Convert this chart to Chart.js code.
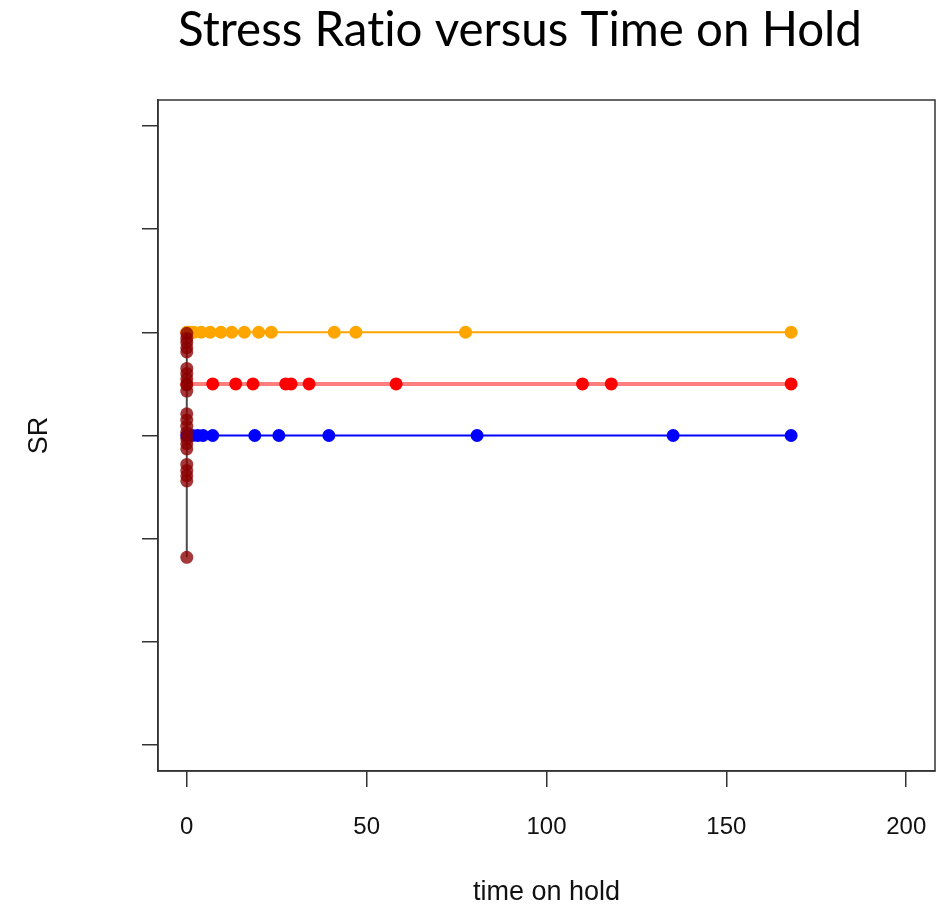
<!DOCTYPE html>
<html>
<head>
<meta charset="utf-8">
<script src="https://cdn.jsdelivr.net/npm/chart.js@4.4.0/dist/chart.umd.min.js"></script>
<style>
    html, body { margin: 0; padding: 0; background: #fff; }
    #wrap { width: 943px; height: 906px; }
</style>
</head>
<body>
<div id="wrap"><canvas id="srChart" width="943" height="906"></canvas></div>
<script>
// axis ticks (the y tick labels are not shown in the original)
const xTicks = [0, 50, 100, 150, 200];
const yTicks = [0.1, 0.2, 0.3, 0.4, 0.5, 0.6, 0.7];

// orange series
const orangeTime = [0, 1, 2, 4, 6.5, 9.5, 12.5, 16, 20, 23.5, 41, 47, 77.5, 168];
const orangeSR   = [0.5, 0.5, 0.5, 0.5, 0.5, 0.5, 0.5, 0.5, 0.5, 0.5, 0.5, 0.5, 0.5, 0.5];

// red series
const redTime = [0, 7.2, 13.6, 18.4, 27.5, 29, 34, 58.2, 110, 118, 168];
const redSR   = [0.45, 0.45, 0.45, 0.45, 0.45, 0.45, 0.45, 0.45, 0.45, 0.45, 0.45];

// blue series
const blueTime = [0, 1.5, 3, 4.5, 7.2, 18.9, 25.6, 39.5, 80.7, 135.2, 168];
const blueSR   = [0.4, 0.4, 0.4, 0.4, 0.4, 0.4, 0.4, 0.4, 0.4, 0.4, 0.4];

// dark red series (all at time 0)
const darkTime = [0, 0, 0, 0, 0, 0, 0, 0, 0, 0, 0, 0, 0, 0, 0, 0, 0, 0, 0, 0, 0, 0];
const darkSR   = [0.499, 0.494, 0.490, 0.485, 0.481, 0.465, 0.460, 0.455, 0.449, 0.443,
                  0.421, 0.415, 0.409, 0.403, 0.397, 0.392, 0.387, 0.372, 0.366, 0.361, 0.356, 0.282];

const pts = (xs, ys) => xs.map((x, i) => ({ x: x, y: ys[i] }));

const boxPlugin = {
    id: 'box',
    afterDraw(chart) {
        const { ctx, chartArea: a } = chart;
        ctx.save();
        ctx.strokeStyle = '#333';
        ctx.lineWidth = 1.5;
        ctx.strokeRect(a.left, a.top, a.right - a.left, a.bottom - a.top);
        ctx.restore();
    }
};

const titlePlugin = {
    id: 'rTitle',
    afterDraw(chart) {
        const ctx = chart.ctx;
        const text = 'Stress Ratio versus Time on Hold';
        ctx.save();
        if ('letterSpacing' in ctx) ctx.letterSpacing = '0.01px'; // no "ti" ligature
        let size = 44;
        ctx.font = size + 'px Lato';
        const w = ctx.measureText(text).width;
        size = size * 684 / w;
        ctx.font = size + 'px Lato';
        ctx.fillStyle = '#000';
        ctx.textAlign = 'center';
        ctx.textBaseline = 'alphabetic';
        ctx.fillText(text, 520, 46);
        ctx.restore();
    }
};

const axisGrid = { drawOnChartArea: false, drawTicks: true, tickLength: 16, color: '#333', lineWidth: 1.5 };

new Chart(document.getElementById('srChart'), {
    type: 'scatter',
    data: {
        datasets: [
            {
                data: pts(darkTime, darkSR),
                showLine: true,
                borderColor: 'rgba(0,0,0,0.7)',
                borderWidth: 2,
                pointRadius: 6.5,
                pointBorderWidth: 0,
                pointBackgroundColor: 'rgba(139,0,0,0.78)',
                order: 0
            },
            {
                data: pts(orangeTime, orangeSR),
                showLine: true,
                borderColor: '#FFA500',
                borderWidth: 2,
                pointRadius: 6.5,
                pointBorderWidth: 0,
                pointBackgroundColor: '#FFA500',
                order: 1
            },
            {
                data: pts(redTime, redSR),
                showLine: true,
                borderColor: 'rgba(255,0,0,0.5)',
                borderWidth: 4,
                pointRadius: 6.5,
                pointBorderWidth: 0,
                pointBackgroundColor: '#FF0000',
                order: 2
            },
            {
                data: pts(blueTime, blueSR),
                showLine: true,
                borderColor: '#0000FF',
                borderWidth: 2,
                pointRadius: 6.5,
                pointBorderWidth: 0,
                pointBackgroundColor: '#0000FF',
                order: 3
            }
        ]
    },
    options: {
        responsive: false,
        animation: false,
        devicePixelRatio: 1,
        layout: { padding: { top: 100, right: 8, left: 0, bottom: 0 } },
        plugins: { legend: { display: false }, tooltip: { enabled: false } },
        scales: {
            x: {
                type: 'linear',
                min: -8,
                max: 208,
                afterBuildTicks: s => { s.ticks = xTicks.map(v => ({ value: v })); },
                afterFit: s => { s.height = 135; s.paddingLeft = 0; s.paddingRight = 0; },
                grid: axisGrid,
                border: { display: true, color: '#333', width: 1.5 },
                ticks: {
                    font: { family: 'Liberation Sans', size: 24 },
                    color: '#111',
                    padding: 26,
                    maxRotation: 0
                },
                title: {
                    display: true,
                    text: 'time on hold',
                    font: { family: 'Liberation Sans', size: 27, lineHeight: 1 },
                    color: '#111',
                    padding: 0
                }
            },
            y: {
                type: 'linear',
                min: 0.075,
                max: 0.725,
                afterBuildTicks: s => { s.ticks = yTicks.map(v => ({ value: v })); },
                afterFit: s => { s.width = 158; s.paddingTop = 0; s.paddingBottom = 0; },
                grid: axisGrid,
                border: { display: true, color: '#333', width: 1.5 },
                ticks: { display: false },
                title: {
                    display: true,
                    text: 'SR',
                    font: { family: 'Liberation Sans', size: 27 },
                    color: '#111',
                    padding: { top: 23, bottom: 0 }
                }
            }
        }
    },
    plugins: [boxPlugin, titlePlugin]
});
</script>
</body>
</html>
